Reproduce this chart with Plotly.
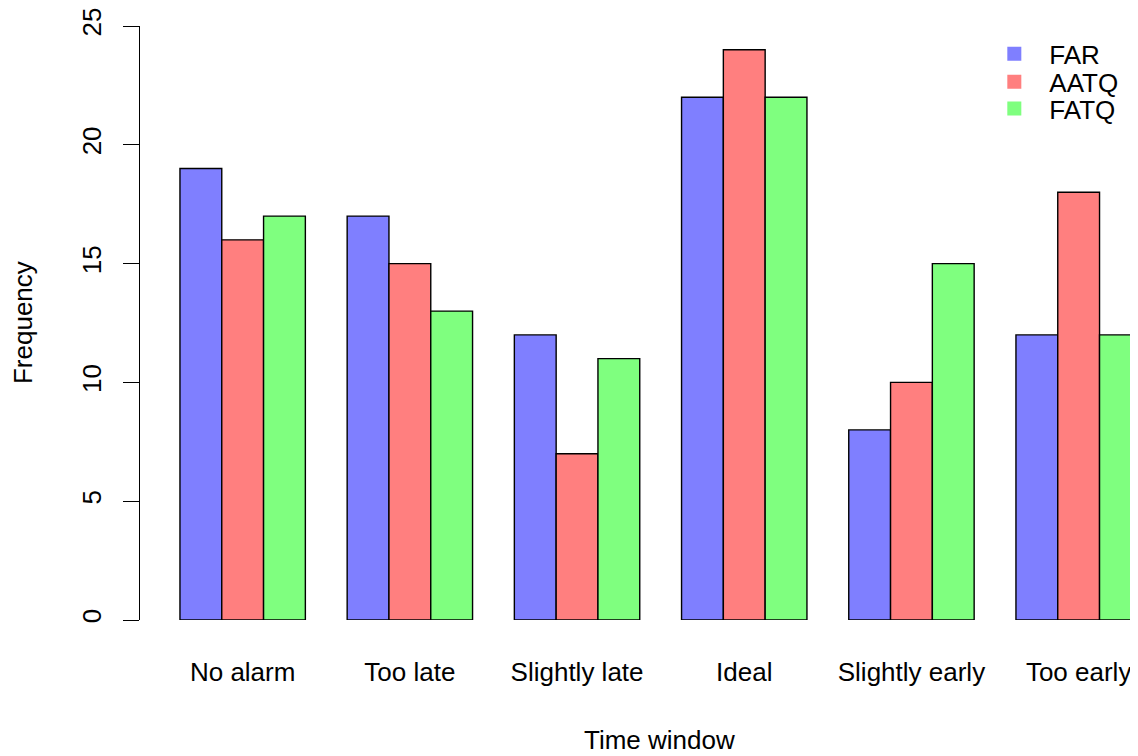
import plotly.graph_objects as go

categories = ["No alarm", "Too late", "Slightly late", "Ideal", "Slightly early", "Too early"]
series_names = ["FAR", "AATQ", "FATQ"]
far = [19, 17, 12, 22, 8, 12]
aatq = [16, 15, 7, 24, 10, 18]
fatq = [17, 13, 11, 22, 15, 12]
colors = ["#7F7FFF", "#FF7F7F", "#7FFF7F"]
y_ticks = [0, 5, 10, 15, 20, 25]

FONT = "Liberation Sans, Arial, sans-serif"
legend_ids = ["legend", "legend2", "legend3"]
legend_y = [0.953, 0.906, 0.861]

fig = go.Figure()
for name, vals, col in zip(series_names, [far, aatq, fatq], colors):
    fig.add_trace(go.Bar(
        x=categories, y=vals, name=name, showlegend=False,
        marker=dict(color=col, line=dict(color="black", width=1.4)),
    ))
for name, col, lid in zip(series_names, colors, legend_ids):
    fig.add_trace(go.Scatter(
        x=[None], y=[None], mode="markers", name=name, legend=lid,
        marker=dict(symbol="square", size=14, color=col),
    ))

legend_style = dict(x=0.841, xanchor="left", yanchor="middle",
                    bgcolor="rgba(0,0,0,0)", font=dict(size=26, color="black"),
                    itemwidth=60)

fig.update_layout(
    width=1130, height=748,
    margin=dict(l=132, r=0, t=16, b=136),
    paper_bgcolor="white", plot_bgcolor="white",
    barmode="group", bargap=0.25, bargroupgap=0,
    font=dict(family=FONT, size=26, color="black"),
    showlegend=True,
    legend=dict(y=legend_y[0], **legend_style),
    legend2=dict(y=legend_y[1], **legend_style),
    legend3=dict(y=legend_y[2], **legend_style),
    xaxis=dict(range=[-0.614, 5.355], showline=False, ticks="", showgrid=False,
               zeroline=False, ticklabelstandoff=34,
               tickfont=dict(size=26)),
    yaxis=dict(range=[0, 25], tickvals=y_ticks, showline=True, linecolor="black",
               linewidth=1.4, ticks="outside", ticklen=16, tickwidth=1.4,
               tickcolor="black", tickangle=-90, showgrid=False, zeroline=False,
               tickfont=dict(size=26), ticklabelstandoff=11,
               ticklabeloverflow="allow"),
    annotations=[
        dict(text="Time window", xref="paper", yref="paper", x=0.521, y=-0.2013,
             xanchor="center", yanchor="middle", showarrow=False,
             font=dict(size=26)),
        dict(text="Frequency", xref="paper", yref="paper", x=-0.1172, y=0.5,
             xanchor="center", yanchor="middle", showarrow=False, textangle=-90,
             font=dict(size=26)),
    ],
)

fig.write_html("out.html")
